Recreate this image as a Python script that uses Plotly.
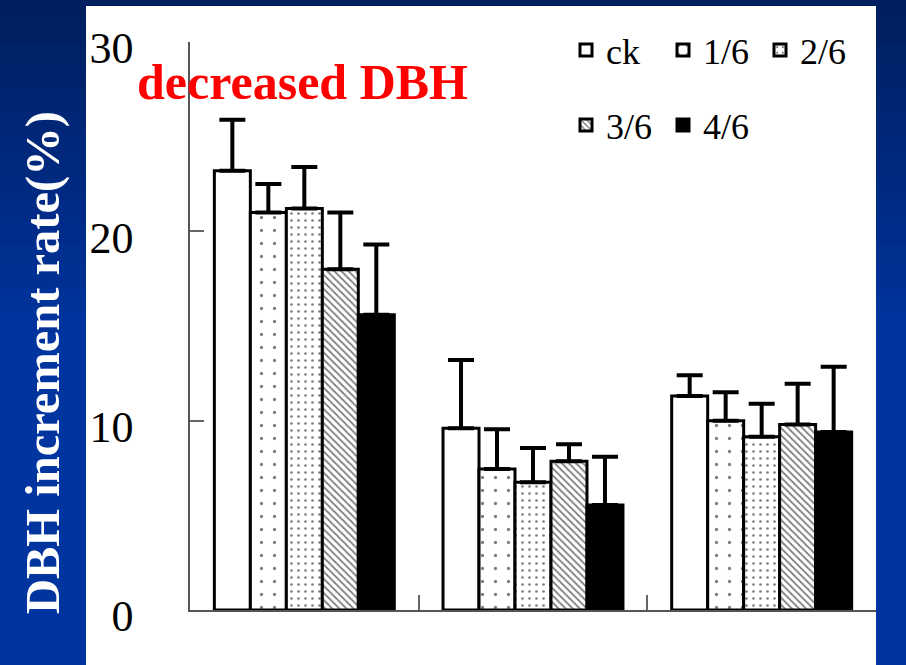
import plotly.graph_objects as go

# ---- data ----
categories = [0, 1, 2]
series_names = ["ck", "1/6", "2/6", "3/6", "4/6"]
ck_vals = [23.2, 9.6, 11.3]
ck_err = [2.7, 3.6, 1.1]
s16_vals = [21.0, 7.45, 10.0]
s16_err = [1.5, 2.1, 1.5]
s26_vals = [21.2, 6.75, 9.15]
s26_err = [2.2, 1.8, 1.75]
s36_vals = [18.0, 7.85, 9.8]
s36_err = [3.0, 0.9, 2.15]
s46_vals = [15.6, 5.55, 9.4]
s46_err = [3.7, 2.55, 3.45]
y_ticks = [0, 10, 20, 30]

W, H = 906, 665
L, R, T, B = 190, 30, 42, 55
PW, PH = W - L - R, H - T - B


def px2x(px):
    return (px - L) / PW


def py2y(py):
    return (H - B - py) / PH


fig = go.Figure()

styles = [
    dict(color="white", pattern=None),
    dict(color="white", pattern=dict(shape=".", size=13, solidity=0.05, fgcolor="black", bgcolor="white")),
    dict(color="white", pattern=dict(shape=".", size=7, solidity=0.12, fgcolor="black", bgcolor="white")),
    dict(color="white", pattern=dict(shape="\\", size=5, solidity=0.35, fgcolor="black", bgcolor="white")),
    dict(color="black", pattern=None),
]
vals = [ck_vals, s16_vals, s26_vals, s36_vals, s46_vals]
errs = [ck_err, s16_err, s26_err, s36_err, s46_err]
legends = ["legend", "legend", "legend", "legend2", "legend2"]

for name, v, e, st, lg in zip(series_names, vals, errs, styles, legends):
    marker = dict(color=st["color"], line=dict(color="black", width=3))
    if st["pattern"]:
        marker["pattern"] = st["pattern"]
    fig.add_trace(go.Bar(
        x=categories, y=v, name=name, marker=marker, legend=lg,
        error_y=dict(type="data", symmetric=False, array=e, arrayminus=[0] * len(e),
                     color="black", thickness=4, width=13),
    ))

# background gradient (dark navy top -> royal blue)
shapes = []
n = 30
top = (0, 30, 94)
bot = (0, 52, 158)
for i in range(n):
    y0p = i * H / n
    y1p = (i + 1) * H / n
    t = min(1.0, (i + 0.5) / n / 0.5)
    c = tuple(int(round(top[k] + (bot[k] - top[k]) * t)) for k in range(3))
    shapes.append(dict(type="rect", xref="paper", yref="paper", layer="below",
                       x0=px2x(0), x1=px2x(W), y0=py2y(y1p + 0.5), y1=py2y(y0p),
                       fillcolor="rgb(%d,%d,%d)" % c, line=dict(width=0)))
shapes.append(dict(type="rect", xref="paper", yref="paper", layer="below",
                   x0=px2x(86), x1=px2x(876), y0=py2y(H + 2), y1=py2y(6),
                   fillcolor="white", line=dict(width=0)))

tick_font = dict(family="Liberation Serif", size=44, color="black")
leg_font = dict(family="Liberation Serif", size=36, color="black")

fig.update_layout(
    width=W, height=H,
    margin=dict(l=L, r=R, t=T, b=B),
    paper_bgcolor="rgb(0,40,130)",
    plot_bgcolor="rgba(0,0,0,0)",
    barmode="group", bargap=0.213, bargroupgap=0,
    shapes=shapes,
    xaxis=dict(range=[-0.5, 2.5], tickvals=[-0.5, 0.5, 1.5, 2.5], showticklabels=False,
               ticks="inside", ticklen=15, tickcolor="#666", tickwidth=1.5,
               showline=True, linecolor="#555", linewidth=1.5, showgrid=False, zeroline=False),
    yaxis=dict(range=[0, 30], tickvals=y_ticks, ticks="inside", ticklen=14, tickcolor="#666",
               tickwidth=1.5, showline=True, linecolor="#555", linewidth=1.5,
               showgrid=False, zeroline=False, tickfont=tick_font, ticklabelstandoff=46,
               ticklabelshift=6),
    legend=dict(x=px2x(566), y=py2y(50), xanchor="left", yanchor="middle", orientation="h",
                font=leg_font, bgcolor="rgba(0,0,0,0)", entrywidth=52, traceorder="normal"),
    legend2=dict(x=px2x(566), y=py2y(125), xanchor="left", yanchor="middle", orientation="h",
                 font=leg_font, bgcolor="rgba(0,0,0,0)", entrywidth=52, traceorder="normal"),
    showlegend=True,
    annotations=[
        dict(text="<b>DBH increment rate(%)</b>", xref="paper", yref="paper",
             x=px2x(43), y=py2y(363), xanchor="center", yanchor="middle", textangle=-90,
             showarrow=False, font=dict(family="Liberation Serif", size=48.5, color="white")),
        dict(text="<b>decreased DBH</b>", xref="paper", yref="paper",
             x=px2x(302), y=py2y(82), xanchor="center", yanchor="middle",
             showarrow=False, font=dict(family="Liberation Serif", size=50, color="red")),
    ],
)

fig.write_html("out.html",
               config={"displayModeBar": False},
               post_script="document.body.style.margin='0';"
                           "document.body.style.background='rgb(0,40,130)';")
